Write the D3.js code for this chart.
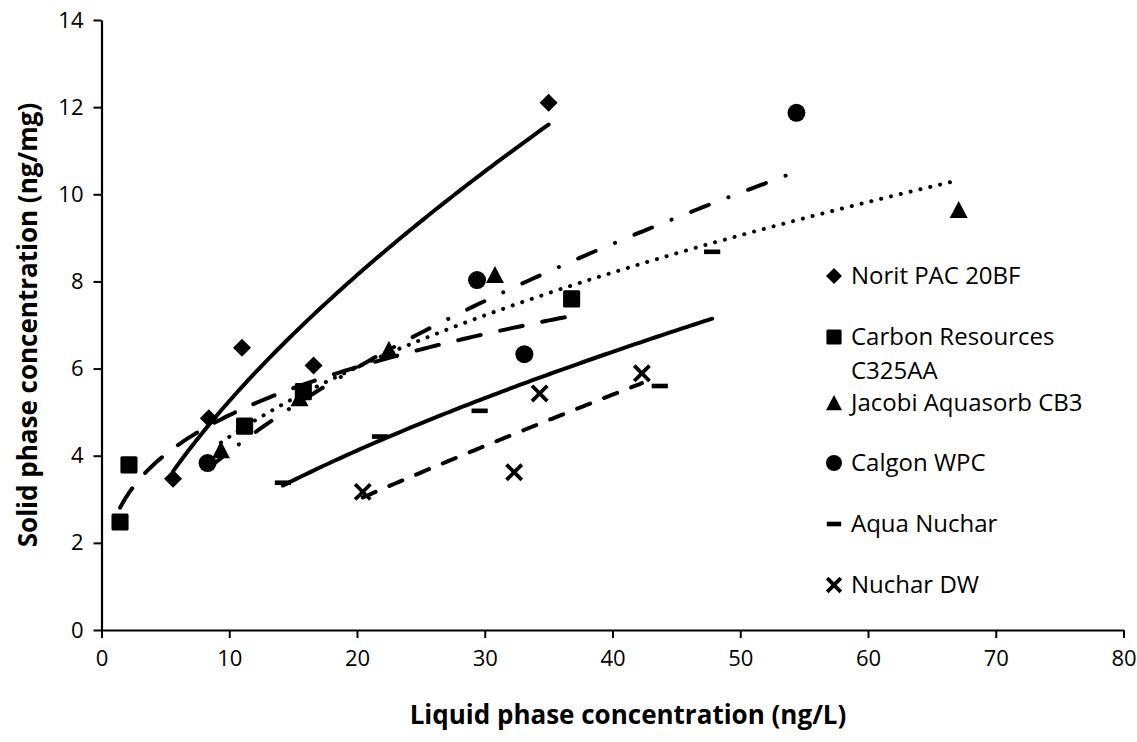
<!DOCTYPE html>
<html>
<head>
<meta charset="utf-8">
<script src="https://cdn.jsdelivr.net/npm/d3@7"></script>
<style>
  html, body { margin: 0; padding: 0; background: #fff; }
  svg { display: block; }
  text { font-family: "Open Sans", "Noto Sans", sans-serif; fill: #000; }
</style>
</head>
<body>
<svg id="chart" width="1137" height="742"></svg>
<script>
// Isotherm data: liquid phase concentration (ng/L) vs solid phase concentration (ng/mg)
const seriesNames = ["Norit PAC 20BF", "Carbon Resources C325AA", "Jacobi Aquasorb CB3",
                     "Calgon WPC", "Aqua Nuchar", "Nuchar DW"];

const noritX  = [5.6, 8.4, 11.0, 16.6, 35.0];
const noritY  = [3.47, 4.86, 6.48, 6.07, 12.1];

const carbonX = [1.45, 2.15, 11.2, 15.8, 36.8];
const carbonY = [2.48, 3.79, 4.68, 5.47, 7.60];

const jacobiX = [9.35, 15.5, 22.5, 30.8, 67.1];
const jacobiY = [4.13, 5.32, 6.43, 8.15, 9.64];

const calgonX = [8.3, 29.4, 33.1, 54.4];
const calgonY = [3.83, 8.03, 6.33, 11.87];

const aquaX   = [14.2, 21.8, 29.6, 43.7, 47.8];
const aquaY   = [3.38, 4.44, 5.03, 5.60, 8.68];

const dwX     = [20.45, 32.3, 34.3, 42.3];
const dwY     = [3.17, 3.62, 5.43, 5.89];

const xTicks = [0, 10, 20, 30, 40, 50, 60, 70, 80];
const yTicks = [0, 2, 4, 6, 8, 10, 12, 14];

const xTitle = "Liquid phase concentration (ng/L)";
const yTitle = "Solid phase concentration (ng/mg)";

// Marker symbols and trendline dash patterns per series
const markers = ["diamond", "square", "triangle", "circle", "dash", "cross"];
const dashes  = [null, "23 20", "0.1 10", "19 21 0.1 21", null, "14 15"];

const seriesX = [noritX, carbonX, jacobiX, calgonX, aquaX, dwX];
const seriesY = [noritY, carbonY, jacobiY, calgonY, aquaY, dwY];

const series = seriesNames.map((name, i) => ({
  name,
  marker: markers[i],
  dash: dashes[i],
  points: seriesX[i].map((x, j) => ({ x, y: seriesY[i][j] }))
}));

const svg = d3.select("#chart");

const x = d3.scaleLinear().domain([0, 80]).range([101.5, 1123.5]);
const y = d3.scaleLinear().domain([0, 14]).range([630, 20]);

// Least-squares power fit  y = a * x^b  (fitted in log–log space)
function powerFit(pts) {
  const lx = pts.map(p => Math.log(p.x)), ly = pts.map(p => Math.log(p.y));
  const mx = d3.mean(lx), my = d3.mean(ly);
  let sxy = 0, sxx = 0;
  lx.forEach((v, i) => { sxy += (v - mx) * (ly[i] - my); sxx += (v - mx) * (v - mx); });
  const b = sxy / sxx;
  const a = Math.exp(my - b * mx);
  return xv => a * Math.pow(xv, b);
}

// Axes
const xAxis = d3.axisBottom(x).tickValues(xTicks).tickSize(8).tickSizeOuter(0).tickPadding(8);
const yAxis = d3.axisLeft(y).tickValues(yTicks).tickSize(8).tickSizeOuter(0).tickPadding(8);

const gx = svg.append("g").attr("transform", `translate(0,${y(0)})`).call(xAxis);
const gy = svg.append("g").attr("transform", `translate(${x(0)},0)`).call(yAxis);

[gx, gy].forEach(g => {
  g.selectAll("path.domain").attr("stroke", "#000").attr("stroke-width", 2.2);
  g.selectAll(".tick line").attr("stroke", "#000").attr("stroke-width", 2);
  g.selectAll(".tick text").style("font-size", "22px").style("font-family", "Open Sans");
});
gx.selectAll(".tick text").attr("dy", "0.9em");
gy.selectAll(".tick text").attr("dx", "-2");

// Trendlines
const line = d3.line().x(d => x(d[0])).y(d => y(d[1]));
series.forEach(s => {
  const f = powerFit(s.points);
  const [x0, x1] = d3.extent(s.points, p => p.x);
  const samples = d3.range(0, 101).map(k => {
    const xv = x0 + (x1 - x0) * k / 100;
    return [xv, f(xv)];
  });
  svg.append("path")
    .attr("d", line(samples))
    .attr("fill", "none")
    .attr("stroke", "#000")
    .attr("stroke-width", 4)
    .attr("stroke-linecap", "round")
    .attr("stroke-dasharray", s.dash);
});

// Marker drawing
function drawMarker(g, type, cx, cy, size) {
  const h = size / 2;
  if (type === "diamond") {
    g.append("path").attr("d", `M${cx},${cy - h}L${cx + h},${cy}L${cx},${cy + h}L${cx - h},${cy}Z`).attr("fill", "#000");
  } else if (type === "square") {
    const s = size * 0.95;
    g.append("rect").attr("x", cx - s / 2).attr("y", cy - s / 2).attr("width", s).attr("height", s)
      .attr("rx", 1.5).attr("fill", "#000");
  } else if (type === "triangle") {
    g.append("path").attr("d", `M${cx},${cy - h}L${cx + h},${cy + h * 0.9}L${cx - h},${cy + h * 0.9}Z`).attr("fill", "#000");
  } else if (type === "circle") {
    g.append("circle").attr("cx", cx).attr("cy", cy).attr("r", h).attr("fill", "#000");
  } else if (type === "dash") {
    g.append("rect").attr("x", cx - h * 0.9).attr("y", cy - 2.3).attr("width", h * 1.8).attr("height", 4.6).attr("fill", "#000");
  } else if (type === "cross") {
    const c = h * 0.85;
    g.append("path").attr("d", `M${cx - c},${cy - c}L${cx + c},${cy + c}M${cx + c},${cy - c}L${cx - c},${cy + c}`)
      .attr("stroke", "#000").attr("stroke-width", 3.8).attr("fill", "none");
  }
}

const gm = svg.append("g");
series.forEach(s => {
  s.points.forEach(p => drawMarker(gm, s.marker, x(p.x), y(p.y), 18));
});

// Axis titles
svg.append("text")
  .attr("x", 628).attr("y", 724)
  .attr("text-anchor", "middle")
  .style("font-size", "26px").style("font-weight", "bold")
  .text(xTitle);

svg.append("text")
  .attr("transform", `translate(37,${(y(0) + y(14)) / 2}) rotate(-90)`)
  .attr("text-anchor", "middle")
  .style("font-size", "26px").style("font-weight", "bold")
  .text(yTitle);

// Legend
const legendRows = [
  { lines: ["Norit PAC 20BF"], y: 276 },
  { lines: ["Carbon Resources", "C325AA"], y: 337 },
  { lines: ["Jacobi Aquasorb CB3"], y: 403 },
  { lines: ["Calgon WPC"], y: 463 },
  { lines: ["Aqua Nuchar"], y: 524 },
  { lines: ["Nuchar DW"], y: 585 }
];
const gl = svg.append("g");
series.forEach((s, i) => {
  const row = legendRows[i];
  drawMarker(gl, s.marker, 834, row.y, 16);
  const t = gl.append("text").attr("x", 851).attr("y", row.y)
    .attr("dy", "0.35em").style("font-size", "24px");
  row.lines.forEach((ln, k) => {
    t.append("tspan").attr("x", 851).attr("dy", k === 0 ? "0.35em" : "1.4em").text(ln);
  });
});
</script>
</body>
</html>
